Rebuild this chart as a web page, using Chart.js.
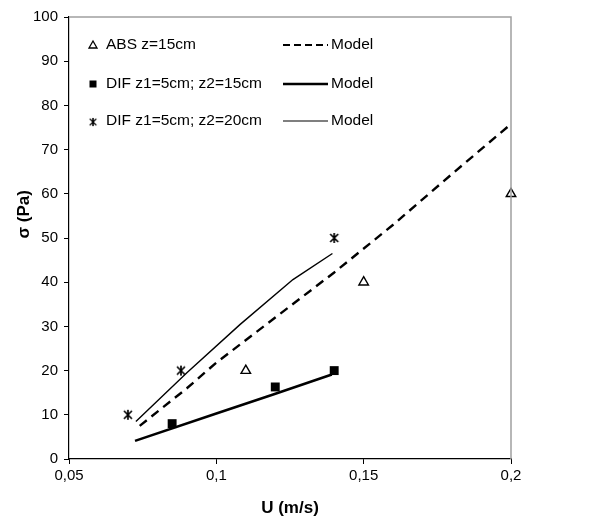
<!DOCTYPE html>
<html>
<head>
<meta charset="utf-8">
<script src="https://cdn.jsdelivr.net/npm/chart.js@4.4.1/dist/chart.umd.min.js"></script>
<style>
  html, body { margin: 0; padding: 0; background: #fff; }
  #wrap { width: 616px; height: 529px; }
</style>
</head>
<body>
<div id="wrap"><canvas id="sigmaChart" width="616" height="529"></canvas></div>
<script>
// measured points
var absU = [0.11, 0.15, 0.2];
var absSigma = [20, 40, 60];
var dif15U = [0.085, 0.12, 0.14];
var dif15Sigma = [8, 16.3, 20];
var dif20U = [0.07, 0.088, 0.14];
var dif20Sigma = [10, 20, 50];

// model curves
var modelAbsU = [0.074, 0.09, 0.1, 0.12, 0.14, 0.16, 0.18, 0.2];
var modelAbsSigma = [7.5, 16, 21.8, 32, 42.2, 53, 64.5, 75.8];
var model15U = [0.0724, 0.1, 0.1193, 0.1392];
var model15Sigma = [4.1, 10.3, 14.6, 19.1];
var model20U = [0.0727, 0.09, 0.108, 0.126, 0.1394];
var model20Sigma = [8.5, 19.5, 30.4, 40.6, 46.5];

var xTickValues = [0.05, 0.1, 0.15, 0.2];
var xTickLabels = ['0,05', '0,1', '0,15', '0,2'];

var legendLabels = ['ABS z=15cm', 'DIF z1=5cm; z2=15cm', 'DIF z1=5cm; z2=20cm'];
var modelLabel = 'Model';

function pts(xs, ys) {
  return xs.map(function (x, i) { return { x: x, y: ys[i] }; });
}

// asterisk marker: vertical bar + X
function makeStar(size) {
  var c = document.createElement('canvas');
  c.width = size; c.height = size;
  var g = c.getContext('2d');
  var m = size / 2;
  g.strokeStyle = '#000';
  g.lineWidth = 1.7;
  g.beginPath();
  g.moveTo(m, 1); g.lineTo(m, size - 1);
  g.moveTo(2, 2); g.lineTo(size - 2, size - 2);
  g.moveTo(size - 2, 2); g.lineTo(2, size - 2);
  g.stroke();
  return c;
}
var starImg = makeStar(12);

var FONT = "'Liberation Sans', Arial, sans-serif";

// legend in two columns + grey top/right frame
var extras = {
  id: 'extras',
  afterDraw: function (chart) {
    var c = chart.ctx, ca = chart.chartArea;
    c.save();
    c.strokeStyle = '#a0a0a0';
    c.lineWidth = 1.5;
    c.beginPath();
    c.moveTo(ca.left, ca.top);
    c.lineTo(ca.right, ca.top);
    c.lineTo(ca.right, ca.bottom);
    c.stroke();

    var rows = [45, 84, 121];
    c.font = '15.5px ' + FONT;
    c.fillStyle = '#000';
    c.textBaseline = 'middle';
    legendLabels.forEach(function (t, i) {
      var y = rows[i];
      var mx = 93;
      c.strokeStyle = '#000';
      c.fillStyle = '#000';
      if (i === 0) {
        c.lineWidth = 1.3;
        c.beginPath();
        c.moveTo(mx, y - 4); c.lineTo(mx + 4, y + 3); c.lineTo(mx - 4, y + 3); c.closePath();
        c.stroke();
      } else if (i === 1) {
        c.fillRect(mx - 3.5, y - 3.5, 7, 7);
      } else {
        c.drawImage(starImg, mx - 5, y - 4, 10, 10);
      }
      c.fillText(t, 106, y);

      c.beginPath();
      c.setLineDash(i === 0 ? [7, 4] : []);
      c.lineWidth = i === 0 ? 2 : (i === 1 ? 2.6 : 1.2);
      c.moveTo(283, y);
      c.lineTo(328, y);
      c.stroke();
      c.setLineDash([]);
      c.fillText(modelLabel, 331, y);
    });
    c.restore();
  }
};

var ctx = document.getElementById('sigmaChart');
var myChart = new Chart(ctx, {
  type: 'scatter',
  data: {
    datasets: [
      { data: pts(modelAbsU, modelAbsSigma), showLine: true, borderColor: '#000', borderWidth: 2.4, borderDash: [9, 6], pointRadius: 0, fill: false },
      { data: pts(model15U, model15Sigma), showLine: true, borderColor: '#000', borderWidth: 2.6, pointRadius: 0, fill: false },
      { data: pts(model20U, model20Sigma), showLine: true, borderColor: '#000', borderWidth: 1.4, pointRadius: 0, fill: false },
      { data: pts(absU, absSigma), pointStyle: 'triangle', pointRadius: 5.5, borderWidth: 1.4, borderColor: '#000', backgroundColor: '#fff' },
      { data: pts(dif15U, dif15Sigma), pointStyle: 'rect', pointRadius: 6.3, borderWidth: 0, borderColor: '#000', backgroundColor: '#000' },
      { data: pts(dif20U, dif20Sigma), pointStyle: starImg, pointRadius: 6 }
    ]
  },
  options: {
    responsive: false,
    animation: false,
    clip: false,
    layout: { padding: { left: 10, top: 17, right: 105, bottom: 6 } },
    plugins: {
      legend: { display: false },
      tooltip: { enabled: false }
    },
    scales: {
      x: {
        type: 'linear',
        min: 0.05,
        max: 0.2,
        afterBuildTicks: function (axis) {
          axis.ticks = xTickValues.map(function (v) { return { value: v }; });
        },
        afterFit: function (scale) { scale.height = 64; },
        grid: { drawOnChartArea: false, drawTicks: true, tickLength: 5, color: '#000' },
        border: { color: '#000', width: 1.2 },
        ticks: {
          padding: 3,
          color: '#000',
          font: { family: FONT, size: 15 },
          callback: function (v) {
            var i = xTickValues.findIndex(function (t) { return Math.abs(t - v) < 1e-9; });
            return i >= 0 ? xTickLabels[i] : '';
          }
        },
        title: { display: true, text: 'U (m/s)', color: '#000', font: { family: FONT, size: 17, weight: 'bold' }, padding: 4 }
      },
      y: {
        min: 0,
        max: 100,
        afterFit: function (scale) { scale.width = 59; },
        grid: { drawOnChartArea: false, drawTicks: true, tickLength: 5, color: '#000' },
        border: { color: '#000', width: 1.2 },
        ticks: {
          stepSize: 10,
          padding: 6,
          color: '#000',
          font: { family: FONT, size: 15 }
        },
        title: { display: true, text: '          σ (Pa)', color: '#000', font: { family: FONT, size: 17, weight: 'bold' }, padding: 4 }
      }
    }
  },
  plugins: [extras]
});
</script>
</body>
</html>
